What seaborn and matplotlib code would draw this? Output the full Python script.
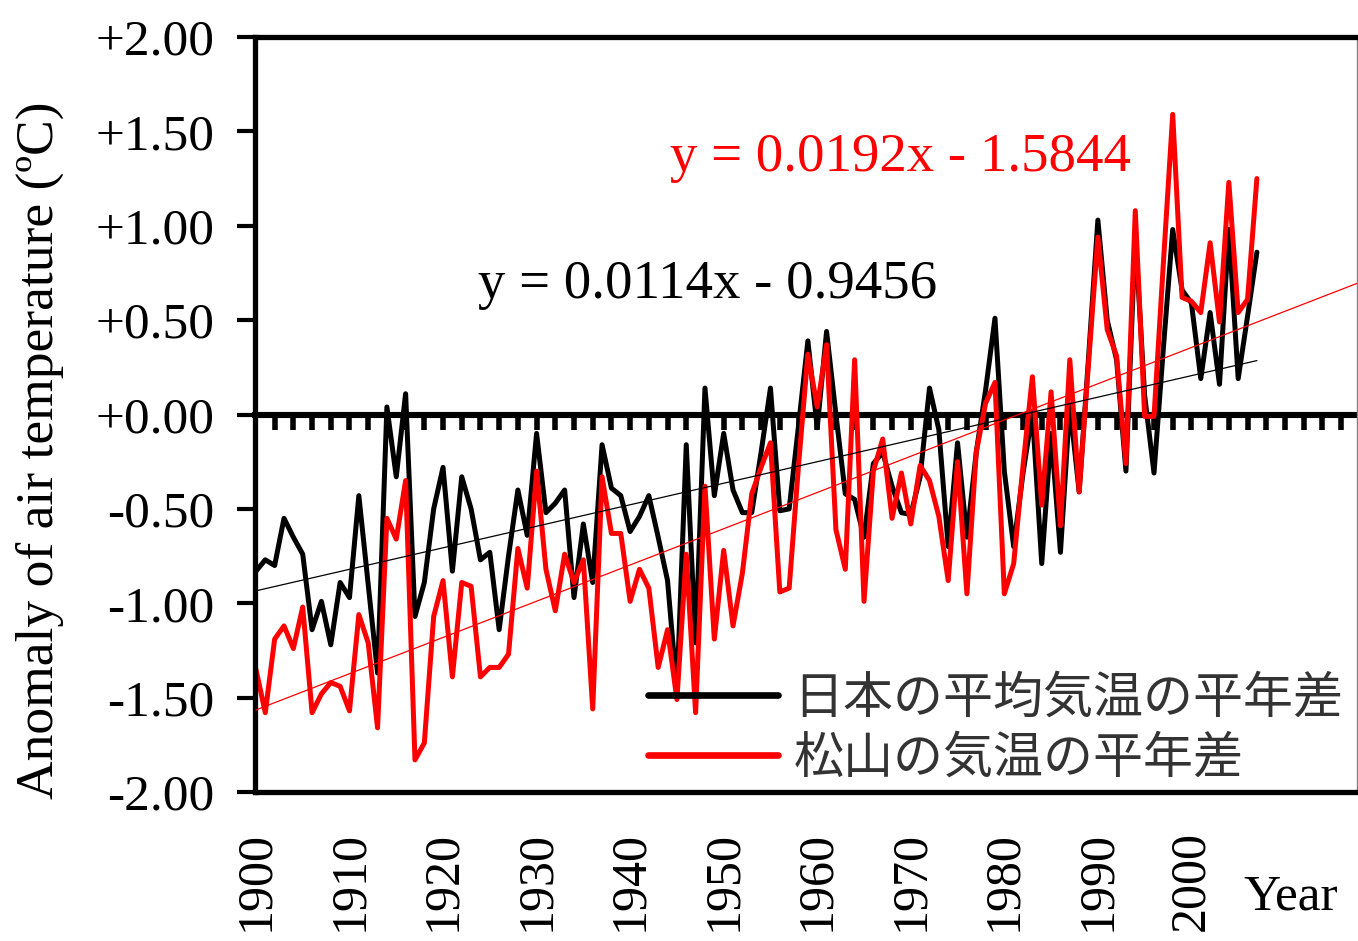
import numpy as np
import pandas as pd
import seaborn as sns
import matplotlib.pyplot as plt

# Annual anomaly of air temperature, 1900-2007
years = list(range(1900, 2008))
japan = [
    -0.83, -0.77, -0.80, -0.55, -0.65, -0.74, -1.14, -0.99, -1.22, -0.89,
    -0.97, -0.43, -0.90, -1.37, 0.04, -0.33, 0.11, -1.07, -0.89, -0.50,
    -0.28, -0.83, -0.33, -0.50, -0.77, -0.73, -1.14, -0.75, -0.40, -0.64,
    -0.10, -0.52, -0.47, -0.40, -0.97, -0.58, -0.89, -0.16, -0.39, -0.43,
    -0.62, -0.54, -0.43, -0.65, -0.88, -1.46, -0.16, -1.21, 0.14, -0.43,
    -0.10, -0.40, -0.52, -0.52, -0.20, 0.14, -0.51, -0.50, -0.06, 0.39,
    -0.07, 0.44, 0.00, -0.42, -0.45, -0.65, -0.26, -0.20, -0.38, -0.52,
    -0.53, -0.33, 0.14, -0.08, -0.70, -0.15, -0.65, -0.20, 0.13, 0.51,
    -0.30, -0.70, -0.31, 0.01, -0.79, -0.10, -0.73, 0.05, -0.41, 0.30,
    1.03, 0.50, 0.29, -0.30, 0.95, 0.10, -0.31, 0.35, 0.98, 0.66,
    0.59, 0.19, 0.54, 0.16, 0.98, 0.19, 0.52, 0.86,
]
matsuyama = [
    -1.35, -1.58, -1.19, -1.12, -1.24, -1.02, -1.58, -1.48, -1.42, -1.44,
    -1.57, -1.06, -1.21, -1.66, -0.55, -0.66, -0.35, -1.83, -1.74, -1.07,
    -0.88, -1.39, -0.89, -0.91, -1.39, -1.34, -1.34, -1.27, -0.71, -0.92,
    -0.30, -0.82, -1.04, -0.74, -0.89, -0.77, -1.56, -0.33, -0.63, -0.63,
    -0.99, -0.82, -0.92, -1.34, -1.14, -1.51, -0.74, -1.58, -0.38, -1.19,
    -0.72, -1.12, -0.84, -0.42, -0.28, -0.15, -0.94, -0.92, -0.27, 0.32,
    0.04, 0.37, -0.61, -0.82, 0.29, -0.99, -0.30, -0.13, -0.55, -0.31,
    -0.58, -0.27, -0.35, -0.54, -0.88, -0.25, -0.95, -0.20, 0.06, 0.17,
    -0.95, -0.79, -0.27, 0.20, -0.48, 0.12, -0.59, 0.29, -0.41, 0.27,
    0.94, 0.45, 0.31, -0.26, 1.08, -0.01, -0.01, 0.80, 1.59, 0.62,
    0.60, 0.54, 0.91, 0.49, 1.23, 0.54, 0.61, 1.25,
]
series_names = ['日本の平均気温の平年差', '松山の気温の平年差']

# Excel linear trendlines (x = 1 for 1900)
japan_slope, japan_intercept = 0.0114, -0.9456
matsu_slope, matsu_intercept = 0.0192, -1.5844
eq_japan = 'y = 0.0114x - 0.9456'
eq_matsu = 'y = 0.0192x - 1.5844'

xtick_years = [1900, 1910, 1920, 1930, 1940, 1950, 1960, 1970, 1980, 1990, 2000]
ytick_values = [2.0, 1.5, 1.0, 0.5, 0.0, -0.5, -1.0, -1.5, -2.0]
ytick_labels = ['+2.00', '+1.50', '+1.00', '+0.50', '+0.00',
                '-0.50', '-1.00', '-1.50', '-2.00']

x_lo, x_hi = 1899.9, 2017.7

df = pd.DataFrame({
    'year': years * 2,
    'anomaly': japan + matsuyama,
    'series': [series_names[0]] * len(years) + [series_names[1]] * len(years),
})

sns.set_style('white')
plt.rcParams['font.family'] = ['Liberation Serif', 'Noto Sans CJK JP', 'DejaVu Sans']
plt.rcParams['text.color'] = 'black'
plt.rcParams['xtick.color'] = 'black'
plt.rcParams['ytick.color'] = 'black'
plt.rcParams['axes.edgecolor'] = 'black'

fig = plt.figure(figsize=(13.58, 9.41), dpi=100)
ax = fig.add_axes([255 / 1358, 149 / 941, 1102 / 1358, 755 / 941])

# zero line with the comb of tick marks, drawn behind the data
ax0 = ax.twiny()
ax0.set_zorder(0)
ax.set_zorder(1)
ax.patch.set_visible(False)

sns.lineplot(data=df, x='year', y='anomaly', hue='series',
             palette=['black', 'red'], linewidth=3.6, ax=ax)

ax.set_xlim(x_lo, x_hi)
ax.set_ylim(-2, 2)
ax0.set_xlim(x_lo, x_hi)

# trendlines
tj = np.array([1900, 2007])
ax.plot(tj, japan_slope * (tj - 1899) + japan_intercept, color='black', lw=0.9, zorder=5)
tm = np.array([1900, x_hi])
ax.plot(tm, matsu_slope * (tm - 1899) + matsu_intercept, color='red', lw=0.9, zorder=5)

for s in ['top', 'left', 'right']:
    ax0.spines[s].set_visible(False)
ax0.spines['bottom'].set_position(('data', 0))
ax0.spines['bottom'].set_linewidth(4.4)
ax0.spines['bottom'].set_color('black')
ax0.xaxis.set_ticks_position('bottom')
ax0.set_xticks(np.arange(1902, 2018, 2))
ax0.tick_params(axis='x', direction='out', length=11, width=4, color='black',
                bottom=True, top=False, labelbottom=False, labeltop=False)
ax0.set_yticks([])

# frame
for s in ['top', 'left', 'bottom']:
    ax.spines[s].set_linewidth(3.8)
    ax.spines[s].set_color('black')
ax.spines['right'].set_linewidth(1)
ax.spines['right'].set_color('#808080')

ax.set_xticks(xtick_years)
ax.set_xticklabels([str(y) for y in xtick_years], rotation=90)
ax.tick_params(axis='x', length=0, pad=28, labelsize=36, bottom=False,
               labelcolor='black')
ax.set_yticks(ytick_values)
ax.set_yticklabels(ytick_labels)
ax.tick_params(axis='y', direction='out', length=13, width=3, pad=16,
               labelsize=37, left=True, color='black', labelcolor='black')
ax.set_xlabel('')
ax.set_ylabel('')

handles, labels = ax.get_legend_handles_labels()
leg = ax.legend(handles, labels, loc='lower left', bbox_to_anchor=(0.357, 0.0093),
                frameon=False, prop={'family': 'Noto Sans CJK JP', 'size': 36},
                handlelength=2.6, handletextpad=0.3, labelspacing=0.17,
                borderpad=0, borderaxespad=0, labelcolor='#333333')
for line in leg.get_lines():
    line.set_linewidth(4.8)

ax.text(0.2024, 0.6715, eq_japan, transform=ax.transAxes, fontsize=39.5,
        ha='left', va='center', color='black')
ax.text(0.3766, 0.8397, eq_matsu, transform=ax.transAxes, fontsize=39.5,
        ha='left', va='center', color='red')

fig.text(1243 / 1358, 1 - 897 / 941, 'Year', fontsize=37, ha='left', va='center')
fig.text(40 / 1358, 1 - 450 / 941, 'Anomaly of air temperature (ºC)',
         rotation=90, fontsize=38.5, ha='center', va='center')

fig.savefig('out.png', dpi=100)
